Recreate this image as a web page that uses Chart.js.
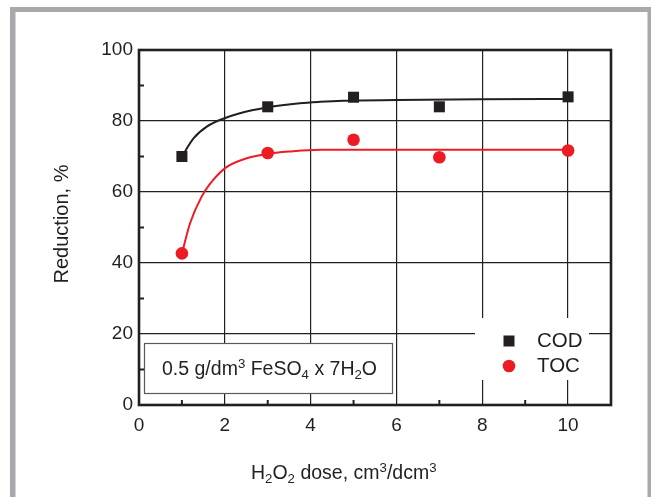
<!DOCTYPE html>
<html>
<head>
<meta charset="utf-8">
<script src="https://cdn.jsdelivr.net/npm/chart.js@4/dist/chart.umd.min.js"></script>
<style>
  html, body { margin: 0; padding: 0; background: #ffffff; }
  #wrap { width: 652px; height: 497px; position: relative; }
</style>
</head>
<body>
<div id="wrap"><canvas id="c" width="652" height="497"></canvas></div>
<script>
// ---- data ----
const doses = [1, 3, 5, 7, 10];
const codValues = [70, 84, 86.7, 84, 86.8];
const tocValues = [42.7, 71, 74.7, 69.8, 71.7];
const codFitX = [1, 1.27, 1.58, 1.93, 2.35, 2.98, 3.75, 4.22, 4.76, 6, 7.95, 10];
const codFitY = [70, 75.1, 78.4, 80.5, 82.2, 83.8, 85.0, 85.4, 85.7, 85.9, 86.1, 86.2];
const tocFitX = [1, 1.19, 1.46, 1.73, 2.04, 2.51, 2.98, 3.52, 4.22, 6, 8, 10];
const tocFitY = [42.7, 51.2, 58.7, 63.4, 67.0, 69.5, 70.7, 71.4, 71.9, 71.9, 71.9, 71.9];
const xTicks = [0, 2, 4, 6, 8, 10];
const yTicks = [0, 20, 40, 60, 80, 100];
const xMinorTicks = [1, 3, 5, 7, 9];
const yMinorTicks = [10, 30, 50, 70, 90];
const seriesNames = ['COD', 'TOC'];

const INK = '#231f20';
const RED = '#ed1c24';
const FONT = '"Liberation Sans", Arial, Helvetica, sans-serif';

function pts(xs, ys) { return xs.map((x, i) => ({ x: x, y: ys[i] })); }

// draw text runs with sub/superscripts
function richText(ctx, x, y, runs, size) {
  let cx = x;
  runs.forEach(r => {
    let s = size, dy = 0;
    if (r.t === 'sub') { s = size * 0.68; dy = size * 0.22; }
    if (r.t === 'sup') { s = size * 0.68; dy = -size * 0.38; }
    ctx.font = s + 'px ' + FONT;
    ctx.fillText(r.s, cx, y + dy);
    cx += ctx.measureText(r.s).width;
  });
  return cx - x;
}

const decor = {
  id: 'decor',
  beforeDatasetsDraw(chart) {
    const ctx = chart.ctx;
    const a = chart.chartArea;
    const xs = chart.scales.x, ys = chart.scales.y;
    ctx.save();
    // white boxes covering grid (annotation + legend)
    ctx.fillStyle = '#ffffff';
    ctx.fillRect(144, 343, 249, 51);
    ctx.fillRect(475, 318, 114, 62);
    ctx.strokeStyle = '#58595b';
    ctx.lineWidth = 1.2;
    ctx.strokeRect(144.5, 343.5, 248, 50);
    // minor ticks
    ctx.strokeStyle = INK;
    ctx.lineWidth = 2;
    yMinorTicks.forEach(v => {
      const py = ys.getPixelForValue(v);
      ctx.beginPath(); ctx.moveTo(a.left, py); ctx.lineTo(a.left + 5, py); ctx.stroke();
    });
    xMinorTicks.forEach(v => {
      const px = xs.getPixelForValue(v);
      ctx.beginPath(); ctx.moveTo(px, a.bottom); ctx.lineTo(px, a.bottom - 5); ctx.stroke();
    });
    // frame
    ctx.lineWidth = 2.6;
    ctx.strokeRect(a.left, a.top, a.right - a.left, a.bottom - a.top);
    ctx.restore();
  },
  afterDraw(chart) {
    const ctx = chart.ctx;
    ctx.save();
    // outer gray frame
    ctx.fillStyle = '#a7a9ac';
    ctx.fillRect(10, 7, 641, 5);
    ctx.fillRect(10, 7, 5.5, 490);
    ctx.fillRect(647.5, 7, 3.5, 490);

    ctx.fillStyle = INK;
    ctx.textBaseline = 'alphabetic';
    ctx.textAlign = 'left';
    // annotation text
    richText(ctx, 162, 375, [
      { s: '0.5 g/dm' }, { s: '3', t: 'sup' }, { s: ' FeSO' }, { s: '4', t: 'sub' },
      { s: ' x 7H' }, { s: '2', t: 'sub' }, { s: 'O' }
    ], 19.5);
    // x title
    richText(ctx, 251, 479, [
      { s: 'H' }, { s: '2', t: 'sub' }, { s: 'O' }, { s: '2', t: 'sub' },
      { s: ' dose, cm' }, { s: '3', t: 'sup' }, { s: '/dcm' }, { s: '3', t: 'sup' }
    ], 19.5);
    // y title
    ctx.save();
    ctx.translate(68, 224);
    ctx.rotate(-Math.PI / 2);
    ctx.textAlign = 'center';
    ctx.font = '20px ' + FONT;
    ctx.fillText('Reduction, %', 0, 0);
    ctx.restore();
    // legend
    ctx.fillStyle = INK;
    ctx.fillRect(503.5, 335.5, 11, 11);
    ctx.fillStyle = RED;
    ctx.beginPath(); ctx.arc(509, 366, 6.3, 0, Math.PI * 2); ctx.fill();
    ctx.fillStyle = INK;
    ctx.font = '20.5px ' + FONT;
    ctx.textBaseline = 'middle';
    ctx.fillText(seriesNames[0], 537, 341);
    ctx.fillText(seriesNames[1], 537, 366);
    ctx.restore();
  }
};

new Chart(document.getElementById('c'), {
  type: 'scatter',
  data: {
    datasets: [
      { label: 'COD fit', data: pts(codFitX, codFitY), showLine: true, borderColor: INK, borderWidth: 2,
        pointRadius: 0, cubicInterpolationMode: 'monotone', order: 3 },
      { label: 'TOC fit', data: pts(tocFitX, tocFitY), showLine: true, borderColor: RED, borderWidth: 2,
        pointRadius: 0, cubicInterpolationMode: 'monotone', order: 3 },
      { label: seriesNames[0], data: pts(doses, codValues), pointStyle: 'rect', pointRadius: 7.8,
        backgroundColor: INK, borderColor: INK, borderWidth: 0, order: 1 },
      { label: seriesNames[1], data: pts(doses, tocValues), pointStyle: 'circle', pointRadius: 6.3,
        backgroundColor: RED, borderColor: RED, borderWidth: 0, order: 1 }
    ]
  },
  options: {
    responsive: false,
    animation: false,
    events: [],
    layout: { padding: { left: 0, right: 41, top: 50, bottom: 0 } },
    plugins: { legend: { display: false }, tooltip: { enabled: false } },
    scales: {
      x: {
        type: 'linear', min: 0, max: 11,
        afterBuildTicks: s => { s.ticks = xTicks.map(v => ({ value: v })); },
        afterFit: s => { s.height = 92; },
        grid: { color: INK, lineWidth: 1.2, drawTicks: false },
        border: { display: false },
        ticks: { color: INK, font: { family: FONT, size: 19 }, padding: 9 }
      },
      y: {
        type: 'linear', min: 0, max: 100,
        afterBuildTicks: s => { s.ticks = yTicks.map(v => ({ value: v })); },
        afterFit: s => { s.width = 139; },
        grid: { color: INK, lineWidth: 1.2, drawTicks: false },
        border: { display: false },
        ticks: { color: INK, font: { family: FONT, size: 19 }, padding: 6 }
      }
    }
  },
  plugins: [decor]
});
</script>
</body>
</html>
